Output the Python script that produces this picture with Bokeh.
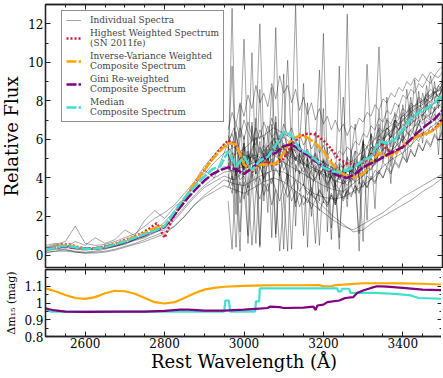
from bokeh.plotting import figure
from bokeh.layouts import column
from bokeh.models import (Legend, LegendItem, FixedTicker, LinearAxis, Range1d,
                          CustomLabelingPolicy)
from bokeh.embed import file_html
from bokeh.resources import INLINE

# ---------------- data ----------------
# composite spectra, 20 A grid
wave = list(range(2500, 3501, 20))
highest = [0.3, 0.4, 0.55, 0.55, 0.42, 0.35, 0.35, 0.4, 0.5, 0.62, 0.78, 0.92, 1.1, 1.35, 1.65, 0.9,
           1.9, 2.6, 3.2, 3.85, 4.4, 5.0, 5.5, 5.95, 5.7, 4.8, 4.3, 4.75, 4.8, 4.7, 5.0, 5.7, 6.15,
           6.3, 6.25, 5.95, 5.5, 4.95, 4.75, 4.7, 4.8, 5.15, 6.0, 5.45, 5.3, 5.6, 6.0, 6.2, 6.3, 6.55, 7.05]
invvar = [0.3, 0.4, 0.5, 0.5, 0.4, 0.33, 0.34, 0.4, 0.48, 0.6, 0.75, 0.9, 1.05, 1.25, 1.45, 1.5,
          2.0, 2.65, 3.25, 3.85, 4.4, 4.95, 5.4, 5.8, 5.75, 4.7, 4.4, 4.7, 4.7, 4.75, 5.3, 6.0, 6.2,
          6.1, 5.8, 5.4, 4.8, 4.3, 4.1, 4.05, 4.2, 4.8, 5.3, 5.15, 5.2, 5.7, 5.95, 6.2, 6.3, 6.5, 6.9]
gini = [0.32, 0.36, 0.42, 0.42, 0.36, 0.32, 0.33, 0.38, 0.45, 0.55, 0.68, 0.82, 0.96, 1.12, 1.28, 1.45,
        1.95, 2.5, 3.0, 3.45, 3.85, 4.2, 4.4, 4.55, 4.45, 4.2, 4.5, 4.85, 5.15, 5.3, 5.65, 5.75, 5.45,
        5.2, 4.85, 4.6, 4.3, 4.1, 4.0, 4.2, 4.55, 4.75, 4.95, 5.2, 5.4, 5.6, 6.0, 6.4, 6.75, 7.05, 7.5]
median = [0.3, 0.35, 0.45, 0.45, 0.38, 0.32, 0.33, 0.38, 0.46, 0.58, 0.7, 0.85, 1.0, 1.15, 1.3, 1.5,
          2.1, 2.7, 3.2, 3.65, 4.05, 4.45, 4.6, 5.4, 4.6, 5.1, 4.4, 4.9, 5.1, 5.7, 6.4, 6.2, 5.5,
          5.3, 4.95, 4.55, 4.35, 4.3, 4.4, 4.6, 4.9, 5.1, 5.9, 5.8, 6.0, 6.5, 7.1, 7.4, 7.6, 7.9, 8.3]

# individual spectra: full range, 25 A grid
wave_a = list(range(2500, 3501, 25))
spec_a = [
    [0.35, 0.5, 0.45, 0.4, 0.3, 0.35, 0.4, 0.5, 0.7, 0.85, 1.0, 1.3, 1.5, 2.0, 2.8, 3.3, 3.9, 4.2, 4.6, 4.3, 4.8,
     5.2, 5.0, 5.6, 5.3, 5.0, 4.7, 4.4, 4.2, 3.9, 3.7, 4.1, 4.5, 4.8, 5.5, 5.9, 6.4, 6.9, 7.3, 7.8, 8.2],
    [0.2, 0.3, 0.25, 0.2, 0.15, 0.2, 0.3, 0.45, 0.55, 0.8, 0.95, 1.2, 1.3, 1.8, 2.4, 3.0, 3.5, 3.8, 4.1, 3.9, 4.3,
     4.6, 4.9, 5.2, 4.8, 4.5, 4.2, 3.9, 3.6, 3.4, 3.3, 3.7, 4.1, 4.6, 5.1, 5.5, 6.0, 6.6, 7.0, 7.4, 7.9],
    [0.4, 0.55, 0.7, 1.5, 0.6, 0.5, 0.55, 0.7, 0.9, 1.1, 1.5, 1.9, 2.2, 2.6, 3.2, 3.8, 4.6, 5.2, 5.8, 5.2, 5.5,
     6.0, 6.2, 6.6, 6.3, 6.0, 5.4, 5.1, 4.8, 4.5, 4.6, 4.9, 5.4, 5.9, 6.4, 6.8, 7.2, 7.7, 8.0, 8.4, 8.6],
    [0.1, 0.2, 0.3, 0.15, 0.1, 0.15, 0.2, 0.3, 0.45, 0.6, 0.8, 1.0, 1.2, 1.5, 2.0, 2.6, 3.1, 3.5, 3.9, 3.7, 3.6,
     3.9, 4.2, 4.4, 4.3, 4.0, 3.6, 3.2, 3.0, 2.9, 3.0, 3.3, 3.6, 4.0, 4.6, 5.0, 5.3, 5.8, 6.3, 6.7, 7.1],
    [0.5, 0.6, 0.4, 0.7, 0.5, 0.9, 0.6, 0.8, 1.3, 1.0, 1.8, 2.3, 1.9, 2.5, 2.9, 3.6, 4.4, 4.0, 5.3, 6.6, 4.5,
     5.8, 3.9, 6.1, 4.4, 5.5, 4.6, 3.8, 4.9, 3.5, 4.4, 3.9, 5.1, 4.6, 5.9, 5.2, 6.6, 6.0, 7.3, 6.9, 7.6],
    [0.3, 0.45, 0.5, 0.35, 0.3, 0.3, 0.35, 0.45, 0.6, 0.75, 0.9, 1.15, 1.45, 1.9, 2.5, 3.1, 3.6, 4.0, 4.3, 4.4, 4.6,
     4.8, 5.1, 5.4, 5.5, 5.1, 4.8, 4.5, 4.3, 4.1, 4.2, 4.5, 4.9, 5.3, 5.8, 6.2, 6.7, 7.2, 7.6, 8.1, 8.5],
    [0.25, 0.35, 0.4, 0.3, 0.25, 0.3, 0.35, 0.45, 0.6, 0.8, 1.0, 1.3, 1.7, 2.3, 2.9, 3.6, 4.2, 4.8, 5.3, 5.6, 5.2,
     5.0, 5.4, 6.0, 6.1, 5.7, 5.3, 4.9, 4.6, 4.4, 4.3, 4.6, 4.8, 5.3, 6.0, 6.5, 7.0, 7.5, 7.8, 8.3, 8.8],
    [0.15, 0.2, 0.2, 0.15, 0.1, 0.1, 0.15, 0.25, 0.4, 0.55, 0.7, 0.9, 1.1, 1.5, 2.0, 2.6, 3.0, 3.3, 3.6, 3.4, 3.2,
     3.5, 3.8, 4.0, 3.8, 3.4, 3.0, 2.6, 2.2, 1.8, 1.5, 1.3, 1.6, 1.9, 2.2, 2.6, 3.0, 3.3, 3.6, 3.9, 4.2],
]

# individual spectra: red end only, 10 A grid
wave_b = list(range(2960, 3501, 10))
spec_b = [
    [5.2, 4.6, 5.5, 4.9, 5.8, 5.0, 5.4, 6.1, 5.3, 5.7, 5.1, 5.9, 5.4, 6.2, 5.6, 5.0, 5.8, 5.3, 5.6, 4.9,
     5.4, 4.7, 5.2, 4.5, 4.9, 4.3, 4.6, 4.1, 4.5, 4.0, 4.4, 4.2, 4.8, 4.5, 5.1, 4.9, 5.6, 5.3, 6.0, 5.8,
     6.4, 6.1, 6.8, 6.5, 7.1, 6.9, 7.5, 7.2, 7.8, 7.6, 8.1, 7.9, 8.4, 8.2, 8.6],
    [4.2, 3.6, 4.5, 3.9, 4.1, 3.5, 4.4, 3.8, 4.6, 4.0, 4.3, 3.7, 4.5, 4.1, 3.6, 4.2, 3.5, 3.9, 3.3, 3.7,
     3.1, 3.5, 2.9, 3.3, 3.0, 2.7, 3.2, 2.8, 3.4, 3.0, 3.3, 3.6, 3.2, 3.8, 3.5, 4.1, 3.9, 4.4, 4.2, 4.8,
     4.6, 5.1, 4.9, 5.5, 5.2, 5.8, 5.6, 6.1, 5.9, 6.4, 6.2, 6.7, 6.5, 6.9, 7.1],
    [6.5, 7.4, 6.8, 7.9, 7.2, 8.3, 7.6, 8.8, 7.9, 8.4, 7.7, 8.9, 8.1, 9.3, 8.4, 8.8, 7.9, 8.6, 7.5, 8.2,
     7.3, 7.9, 7.0, 7.6, 6.8, 7.2, 6.5, 7.0, 6.4, 6.8, 6.2, 6.7, 6.5, 7.1, 6.9, 7.4, 7.2, 7.8, 7.5, 8.1,
     7.9, 8.4, 8.2, 8.7, 8.5, 9.0, 8.8, 9.2, 9.0, 9.4, 9.1, 9.5, 9.3, 9.6, 9.8],
    [4.5, 12.8, 3.9, 0.2, 5.6, 4.8, 10.5, 4.2, 0.5, 6.1, 4.9, 5.5, 11.8, 4.6, 0.3, 5.2, 6.0, 13.0, 4.7, 5.3,
     0.4, 4.8, 5.1, 9.6, 4.4, 4.0, 0.8, 4.6, 3.9, 4.3, 12.5, 4.1, 4.7, 0.2, 5.0, 5.6, 5.2, 6.4, 10.8, 6.0,
     6.6, 6.2, 7.0, 6.7, 7.3, 7.0, 7.7, 7.4, 8.0, 7.8, 8.3, 8.1, 8.5, 8.2, 8.7],
    [3.8, 5.9, 2.1, 7.8, 3.5, 1.0, 6.9, 4.2, 8.6, 2.8, 5.5, 0.9, 7.2, 4.8, 9.4, 3.6, 6.1, 1.5, 5.8, 8.9,
     4.3, 2.0, 6.4, 3.9, 7.6, 1.2, 5.0, 3.4, 9.8, 4.1, 2.5, 5.2, 6.8, 3.7, 5.9, 1.8, 6.3, 4.9, 7.5, 5.4,
     8.2, 4.6, 6.9, 7.8, 5.8, 8.6, 6.7, 9.1, 7.2, 8.4, 7.6, 9.3, 8.0, 8.8, 8.5],
    [4.9, 5.3, 4.6, 5.0, 4.4, 4.8, 5.2, 4.7, 5.1, 5.5, 5.0, 5.4, 5.8, 5.3, 5.7, 5.2, 5.5, 4.9, 5.2, 4.8,
     4.6, 4.9, 4.4, 4.1, 4.5, 4.0, 4.3, 3.8, 4.1, 3.7, 4.0, 4.4, 4.2, 4.7, 4.5, 5.0, 5.3, 5.1, 5.6, 5.9,
     5.7, 6.2, 6.0, 6.5, 6.8, 6.6, 7.1, 6.9, 7.4, 7.2, 7.6, 7.8, 7.5, 8.0, 8.2],
    [5.6, 3.9, 6.4, 4.2, 5.8, 3.5, 6.7, 4.6, 5.9, 3.8, 6.3, 4.4, 6.9, 4.1, 5.6, 3.7, 6.0, 4.3, 5.2, 3.6,
     5.0, 3.1, 4.6, 2.8, 4.9, 3.3, 4.4, 2.6, 4.7, 3.2, 5.1, 3.6, 5.4, 4.0, 5.9, 4.5, 6.3, 4.8, 6.8, 5.2,
     7.1, 5.6, 7.4, 6.0, 7.8, 6.4, 8.2, 6.7, 8.5, 7.0, 8.8, 7.3, 9.0, 7.6, 9.3],
    [3.5, 4.1, 3.2, 3.8, 2.9, 3.6, 0.5, 3.3, 4.0, 3.1, 3.7, 2.6, 3.4, 0.2, 3.0, 3.6, 2.8, 3.3, 2.5, 3.1,
     2.7, 3.2, 2.9, 3.4, 3.0, 2.6, 3.1, 2.7, 3.3, 2.9, 3.4, 3.1, 3.6, 3.3, 3.9, 3.5, 4.1, 3.8, 4.4, 4.0,
     4.6, 4.3, 4.9, 4.6, 5.2, 4.8, 5.5, 5.1, 5.8, 5.4, 6.0, 5.7, 6.3, 6.0, 6.5],
    [5.8, 6.3, 5.5, 6.6, 6.0, 6.9, 6.2, 5.7, 6.5, 6.0, 6.7, 6.1, 6.4, 5.8, 6.3, 5.6, 6.0, 5.4, 5.7, 5.1,
     5.5, 4.9, 5.3, 4.7, 5.0, 4.6, 4.9, 4.4, 4.8, 4.5, 5.0, 4.8, 5.4, 5.2, 5.8, 5.6, 6.2, 6.0, 6.6, 6.4,
     7.0, 6.8, 7.3, 7.1, 7.6, 7.4, 7.9, 7.7, 8.2, 8.0, 8.4, 8.2, 8.7, 8.5, 8.9],
    [2.8, 0.3, 4.5, 1.2, 6.2, 0.6, 3.9, 7.1, 0.4, 5.3, 2.2, 6.8, 0.9, 4.7, 3.1, 0.2, 5.9, 2.5, 4.4, 1.0,
     5.1, 3.3, 0.6, 4.2, 2.7, 5.6, 1.4, 3.8, 0.3, 4.9, 2.9, 5.4, 3.6, 1.1, 6.0, 4.2, 5.3, 2.4, 6.5, 4.8,
     5.9, 3.7, 7.0, 5.5, 6.4, 4.9, 7.6, 6.1, 7.2, 5.8, 8.1, 6.9, 7.7, 5.2, 8.3],
    [4.6, 5.1, 4.3, 4.9, 4.4, 5.2, 4.7, 4.2, 4.8, 4.5, 5.0, 4.6, 5.3, 4.9, 5.4, 5.0, 4.7, 5.1, 4.6, 4.3,
     4.7, 4.2, 3.9, 4.4, 4.0, 3.6, 4.1, 3.7, 3.4, 3.9, 3.6, 4.0, 3.8, 4.3, 4.1, 4.6, 4.4, 4.9, 5.2, 5.0,
     5.5, 5.3, 5.8, 6.1, 5.9, 6.4, 6.2, 6.7, 7.0, 6.8, 7.3, 7.1, 7.5, 7.8, 7.6],
    [6.2, 5.6, 6.8, 6.1, 7.0, 6.4, 5.9, 6.6, 6.0, 6.9, 6.3, 7.1, 6.5, 6.0, 6.8, 6.2, 6.6, 5.9, 6.3, 5.7,
     6.1, 5.5, 5.9, 5.3, 5.7, 5.1, 5.5, 5.0, 5.4, 5.2, 5.6, 5.4, 5.9, 5.7, 6.3, 6.1, 6.7, 6.5, 7.1, 6.9,
     7.5, 7.3, 7.9, 7.7, 8.3, 8.1, 8.6, 8.4, 8.9, 8.7, 9.1, 8.9, 9.3, 9.2, 9.5],
    [3.9, 3.2, 4.4, 2.7, 3.8, 3.1, 4.2, 3.5, 2.9, 3.7, 3.3, 4.0, 3.4, 2.8, 3.6, 3.0, 3.5, 2.7, 3.2, 2.6,
     3.0, 2.4, 2.9, 2.3, 2.8, 2.5, 3.1, 2.6, 3.2, 2.8, 3.3, 3.0, 3.6, 3.2, 3.8, 3.5, 4.0, 3.7, 4.3, 4.0,
     4.5, 4.2, 4.8, 4.5, 5.1, 4.8, 5.4, 5.1, 5.7, 5.4, 5.9, 5.6, 6.2, 5.9, 6.4],
    [5.1, 9.8, 4.4, 6.0, 11.2, 5.3, 4.8, 6.6, 12.0, 5.5, 4.7, 8.7, 5.6, 5.0, 6.3, 10.1, 5.4, 4.9, 5.8, 4.6,
     7.9, 4.8, 4.3, 5.1, 11.5, 4.5, 4.0, 4.8, 4.2, 8.2, 4.6, 4.3, 5.0, 4.7, 5.5, 9.9, 5.8, 5.5, 6.2, 6.0,
     6.6, 6.4, 7.0, 6.8, 7.4, 7.2, 7.8, 7.6, 8.1, 7.9, 8.3, 8.6, 8.4, 8.8, 9.0],
    [4.4, 4.9, 4.1, 4.7, 5.0, 4.5, 5.3, 4.8, 5.6, 5.1, 5.7, 5.2, 5.9, 5.4, 5.8, 5.3, 5.6, 5.0, 5.3, 4.7,
     5.0, 4.5, 4.7, 4.2, 4.5, 4.1, 4.4, 4.0, 4.3, 4.1, 4.5, 4.3, 4.9, 4.6, 5.2, 5.0, 5.6, 5.4, 6.0, 5.8,
     6.3, 6.1, 6.7, 6.5, 7.0, 6.8, 7.3, 7.1, 7.6, 7.4, 7.8, 7.6, 8.0, 7.9, 8.1],
    [4.8, 4.2, 0.4, 5.1, 4.5, 5.4, 4.1, 0.6, 4.9, 5.3, 4.6, 5.0, 1.1, 4.4, 4.9, 4.3, 0.3, 4.7, 4.2, 4.6,
     4.0, 4.4, 3.8, 0.5, 4.2, 3.7, 4.1, 3.6, 0.9, 3.9, 4.2, 3.8, 4.5, 4.1, 0.7, 4.6, 5.0, 4.7, 5.3, 5.0,
     5.6, 5.3, 5.9, 5.6, 6.2, 5.9, 6.5, 6.2, 6.8, 6.5, 7.0, 6.8, 7.3, 7.0, 7.4],
]

# smooth faint spectrum, lower right
wave_c = list(range(3150, 3501, 25))
spec_c = [3.5, 3.0, 2.5, 2.0, 1.6, 1.2, 1.3, 1.7, 2.0, 2.3, 2.6, 2.9, 3.3, 3.6, 4.0]

# delta m15 panel
dm_inv_w = [2500, 2525, 2550, 2575, 2600, 2625, 2650, 2675, 2700, 2725, 2750, 2775, 2800, 2825, 2850, 2875,
            2900, 2925, 2950, 3000, 3050, 3100, 3150, 3190, 3200, 3220, 3230, 3250, 3300, 3350, 3400, 3450, 3500]
dm_inv = [1.087, 1.07, 1.048, 1.03, 1.025, 1.035, 1.058, 1.073, 1.07, 1.055, 1.03, 1.005, 0.997, 1.005, 1.03, 1.058,
          1.08, 1.09, 1.097, 1.102, 1.105, 1.106, 1.106, 1.107, 1.1, 1.1, 1.107, 1.11, 1.118, 1.118, 1.117, 1.115, 1.11]
dm_med_w = [2500, 2515, 2950, 2953, 2962, 2965, 3028, 3030, 3038, 3040, 3235, 3237, 3245, 3247, 3265, 3268,
            3330, 3380, 3420, 3440, 3500]
dm_med = [0.958, 0.948, 0.948, 1.015, 1.015, 0.948, 0.948, 1.01, 1.01, 1.087, 1.087, 1.07, 1.07, 1.085, 1.085, 1.06,
          1.06, 1.055, 1.045, 1.03, 1.025]
dm_gini_w = [2500, 2520, 2550, 2600, 2700, 2750, 2800, 2840, 2860, 2900, 2950, 3000, 3030, 3060, 3065, 3090, 3100,
             3150, 3175, 3180, 3185, 3200, 3210, 3240, 3255, 3275, 3285, 3300, 3320, 3335, 3360, 3400, 3450, 3500]
dm_gini = [0.968, 0.957, 0.948, 0.947, 0.948, 0.948, 0.953, 0.96, 0.96, 0.955, 0.955, 0.96, 0.965, 0.97, 0.978,
           0.975, 0.97, 0.972, 0.978, 0.958, 0.985, 0.99, 1.005, 1.015, 1.03, 1.035, 1.06, 1.075, 1.09, 1.1, 1.098,
           1.09, 1.08, 1.077]

x_major = [2600, 2800, 3000, 3200, 3400]
x_minor = list(range(2500, 3501, 50))
y_major_top = [0, 2, 4, 6, 8, 10, 12]
y_minor_top = list(range(-1, 14))
y_major_bot = [0.8, 0.9, 1.0, 1.1]
y_minor_bot = [0.8, 0.85, 0.9, 0.95, 1.0, 1.05, 1.1, 1.15, 1.2]

# ---------------- styles ----------------
FONT = "DejaVu Serif"
RED, ORANGE, PURPLE, TURQ = "#DC143C", "#FFA500", "#800080", "#40E0D0"
FRAME = "#222222"


def style_axis(ax, labels=True, size="12px"):
    ax.axis_line_color = FRAME
    ax.axis_line_width = 1.3
    ax.major_tick_in = 5
    ax.major_tick_out = 0
    ax.minor_tick_in = 3
    ax.minor_tick_out = 0
    ax.major_tick_line_color = FRAME
    ax.minor_tick_line_color = FRAME
    ax.major_label_text_font = FONT
    ax.major_label_text_color = "black"
    if labels:
        ax.major_label_text_font_size = size
        ax.major_label_standoff = 2
    else:
        ax.major_label_text_font_size = "0px"
        ax.major_label_standoff = 0
        ax.major_label_policy = CustomLabelingPolicy(code="return new Set()")
    ax.axis_label_text_font = FONT
    ax.axis_label_text_font_style = "normal"
    ax.axis_label_text_color = "black"


xr = Range1d(2500, 3500)
xt = FixedTicker(ticks=x_major, minor_ticks=x_minor)

# ---------------- top panel ----------------
p1 = figure(frame_width=397, frame_height=264, x_range=xr, y_range=Range1d(-0.7, 13),
            output_backend="svg", toolbar_location=None,
            min_border_left=44, min_border_right=2, min_border_top=4, min_border_bottom=0)
p1.grid.visible = False
p1.outline_line_color = FRAME
p1.outline_line_width = 1.3
yt1 = FixedTicker(ticks=y_major_top, minor_ticks=y_minor_top)
p1.xaxis.ticker = xt
p1.yaxis.ticker = yt1
style_axis(p1.xaxis[0], labels=False)
style_axis(p1.yaxis[0], labels=True)
p1.yaxis.axis_label = "Relative Flux"
p1.yaxis.axis_label_text_font_size = "18px"
p1.yaxis.axis_label_standoff = 3
ax_r = LinearAxis(ticker=yt1)
style_axis(ax_r, labels=False)
p1.add_layout(ax_r, "right")
ax_t = LinearAxis(ticker=xt)
style_axis(ax_t, labels=False)
p1.add_layout(ax_t, "above")

xs = [wave_a] * len(spec_a) + [wave_b] * len(spec_b) + [wave_c]
ys = spec_a + spec_b + [spec_c]
r_ind = p1.multi_line(xs, ys, line_color="black", line_alpha=0.45, line_width=0.8)
r_hi = p1.line(wave, highest, line_color=RED, line_width=2.5, line_dash="2 2")
r_iv = p1.line(wave, invvar, line_color=ORANGE, line_width=2.5, line_dash="10 2")
r_gi = p1.line(wave, gini, line_color=PURPLE, line_width=2.5, line_dash="10 2")
r_md = p1.line(wave, median, line_color=TURQ, line_width=2.5, line_dash="10 2")

legend = Legend(items=[
    LegendItem(label="Individual Spectra", renderers=[r_ind]),
    LegendItem(label="Highest Weighted Spectrum\n(SN 2011fe)", renderers=[r_hi]),
    LegendItem(label="Inverse-Variance Weighted\nComposite Spectrum", renderers=[r_iv]),
    LegendItem(label="Gini Re-weighted\nComposite Spectrum", renderers=[r_gi]),
    LegendItem(label="Median\nComposite Spectrum", renderers=[r_md]),
], location=(16, 146))
legend.label_text_font = FONT
legend.label_text_font_size = "9px"
legend.label_text_line_height = 1.1
legend.label_height = 10
legend.glyph_width = 15
legend.glyph_height = 10
legend.label_standoff = 9
legend.padding = 4
legend.spacing = 3
legend.margin = 0
legend.border_line_color = FRAME
legend.border_line_width = 1
legend.background_fill_alpha = 1
p1.add_layout(legend)

# ---------------- bottom panel ----------------
p2 = figure(frame_width=397, frame_height=67, x_range=xr, y_range=Range1d(0.8, 1.2),
            output_backend="svg", toolbar_location=None,
            min_border_left=44, min_border_right=2, min_border_top=1, min_border_bottom=0)
p2.grid.visible = False
p2.outline_line_color = FRAME
p2.outline_line_width = 1.3
yt2 = FixedTicker(ticks=y_major_bot, minor_ticks=y_minor_bot)
p2.xaxis.ticker = xt
p2.yaxis.ticker = yt2
style_axis(p2.xaxis[0], labels=True)
style_axis(p2.yaxis[0], labels=True)
p2.xaxis.major_label_standoff = 1
p2.xaxis.axis_label = "Rest Wavelength (Å)"
p2.xaxis.axis_label_text_font_size = "18px"
p2.xaxis.axis_label_standoff = 0
p2.yaxis.axis_label = "Δm₁₅ (mag)"
p2.yaxis.axis_label_text_font_size = "11px"
p2.yaxis.axis_label_standoff = 3
ax_r2 = LinearAxis(ticker=yt2)
style_axis(ax_r2, labels=False)
p2.add_layout(ax_r2, "right")
ax_t2 = LinearAxis(ticker=xt)
style_axis(ax_t2, labels=False)
p2.add_layout(ax_t2, "above")

p2.line(dm_inv_w, dm_inv, line_color=ORANGE, line_width=2.2)
p2.line(dm_med_w, dm_med, line_color=TURQ, line_width=2.2)
p2.line(dm_gini_w, dm_gini, line_color=PURPLE, line_width=2.2)

layout = column(p1, p2, spacing=0,
                styles={"position": "absolute", "left": "-2px", "top": "0px"})
open("out.html", "w").write(file_html(layout, INLINE))
